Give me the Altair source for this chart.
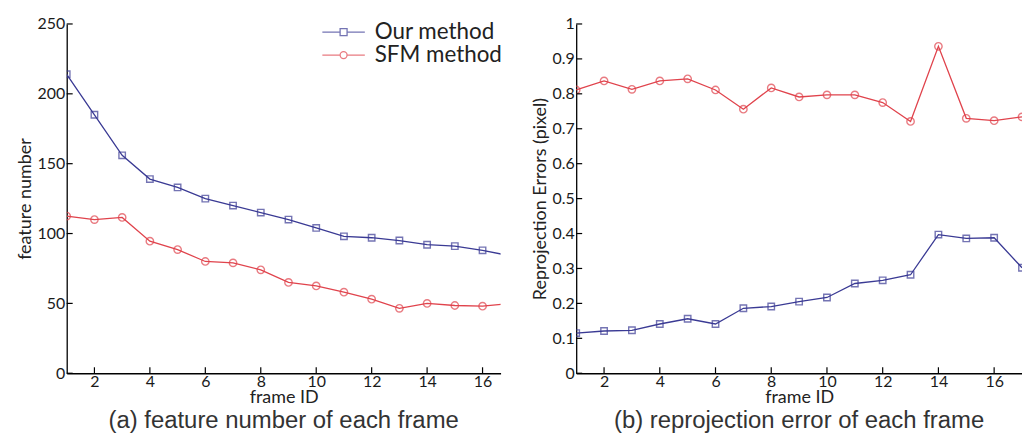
import altair as alt
import pandas as pd

frames = list(range(1, 18))
methods = ["Our method", "SFM method"]
colors = ["#3a3a94", "#e0434c"]

feat_ours = [214, 185, 156, 139, 133, 125, 120, 115, 110, 104, 98, 97, 95, 92, 91, 88, 84]
feat_sfm = [112.5, 110, 111.5, 94.5, 88.5, 80, 79, 74, 65, 62.5, 58, 53, 46.5, 50, 48.5, 48, 50]
err_ours = [0.115, 0.121, 0.123, 0.141, 0.156, 0.141, 0.186, 0.191, 0.205, 0.217,
            0.257, 0.266, 0.282, 0.397, 0.386, 0.388, 0.302]
err_sfm = [0.811, 0.837, 0.813, 0.837, 0.843, 0.811, 0.756, 0.817, 0.791, 0.797,
           0.797, 0.775, 0.721, 0.936, 0.730, 0.723, 0.734]

x_ticks = [2, 4, 6, 8, 10, 12, 14, 16]
feat_ticks = [0, 50, 100, 150, 200, 250]
err_ticks = [0, 0.1, 0.2, 0.3, 0.4, 0.5, 0.6, 0.7, 0.8, 0.9, 1]

legend_paths = [
    "M-6.1,0H-1M1,0H6.1M-1,-1H1V1H-1Z",
    "M-6.1,0H-1M1,0H6.1M-1,0A1,1 0 1,0 1,0A1,1 0 1,0 -1,0",
]

TICK_FONT = "Lato"


def panel(series, xdom, ydom, yticks, yfmt, ytitle, caption, w, h, legend):
    xs = alt.Scale(domain=xdom, nice=False, zero=False)
    ys = alt.Scale(domain=ydom, nice=False)
    xaxis = alt.Axis(values=x_ticks, title="frame ID", titlePadding=-1,
                     labelPadding=0, format="d", labelOverlap=False)
    yaxis = alt.Axis(values=yticks, title=ytitle, titlePadding=3, labelPadding=2,
                     format=yfmt, labelOverlap=False)
    x = alt.X("frame:Q", scale=xs, axis=xaxis)
    y = alt.Y("value:Q", scale=ys, axis=yaxis)
    layers = []
    shapes = ["square", "circle"]
    sizes = [42, 55]
    for i, vals in enumerate(series):
        df = pd.DataFrame({"frame": frames, "value": vals})
        b = alt.Chart(df)
        layers.append(b.mark_line(strokeWidth=1.3, clip=True, color=colors[i]).encode(x=x, y=y))
        layers.append(b.mark_point(shape=shapes[i], size=sizes[i], filled=False,
                                   strokeWidth=1.4, clip=True, color=colors[i]).encode(x=x, y=y))

    ytick_df = pd.DataFrame({"frame": [xdom[0]] * len(yticks), "value": yticks})
    xtick_df = pd.DataFrame({"frame": x_ticks, "value": [ydom[0]] * len(x_ticks)})
    layers.append(alt.Chart(ytick_df).mark_rule(color="black", strokeWidth=1.2, x2Offset=6).encode(
        x=x, x2="frame:Q", y=y))
    layers.append(alt.Chart(xtick_df).mark_rule(color="black", strokeWidth=1.2, y2Offset=-6).encode(
        y=y, y2="value:Q", x=x))

    if legend:
        leg_df = pd.DataFrame({"method": methods, "frame": [-10, -10], "value": [-10, -10]})
        lg = alt.Legend(title=None, orient="none", legendX=267, legendY=-3,
                        labelFontSize=22.5, labelFont=TICK_FONT, labelColor="#222",
                        symbolSize=49, symbolStrokeWidth=1.3, labelOffset=20,
                        rowPadding=0)
        leg = alt.Chart(leg_df).mark_point(filled=False, clip=True).encode(
            x=x, y=y,
            color=alt.Color("method:N", scale=alt.Scale(domain=methods, range=colors), legend=lg),
            shape=alt.Shape("method:N", scale=alt.Scale(domain=methods, range=legend_paths), legend=lg),
        )
        layers.append(leg)
    return alt.layer(*layers).properties(
        width=w, height=h,
        title=alt.Title(caption, orient="bottom", fontSize=24, font="Liberation Sans",
                        fontWeight="normal", color="#333", offset=3),
    )


left = panel([feat_ours, feat_sfm], [1, 16.65], [0, 250], feat_ticks, "d",
             "feature number", "(a) feature number of each frame", 436, 351, True)
right = panel([err_ours, err_sfm], [1, 17], [0, 1], err_ticks, "~g",
              "Reprojection Errors (pixel)", "(b) reprojection error of each frame", 448, 351, False)

chart = alt.hconcat(left, right, spacing=30).properties(
    padding={"left": 8, "top": 7, "right": 0, "bottom": 0}
).configure_view(stroke=None).configure_axis(
    domainColor="black", domainWidth=1.3, ticks=False, grid=False, labelOverlap=False,
    labelFont=TICK_FONT, labelFontSize=16, labelColor="#1a1a1a",
    titleFont=TICK_FONT, titleFontSize=18, titleFontWeight="normal", titleColor="#222",
)

chart.save("out.html", embed_options={"renderer": "svg", "actions": False})
